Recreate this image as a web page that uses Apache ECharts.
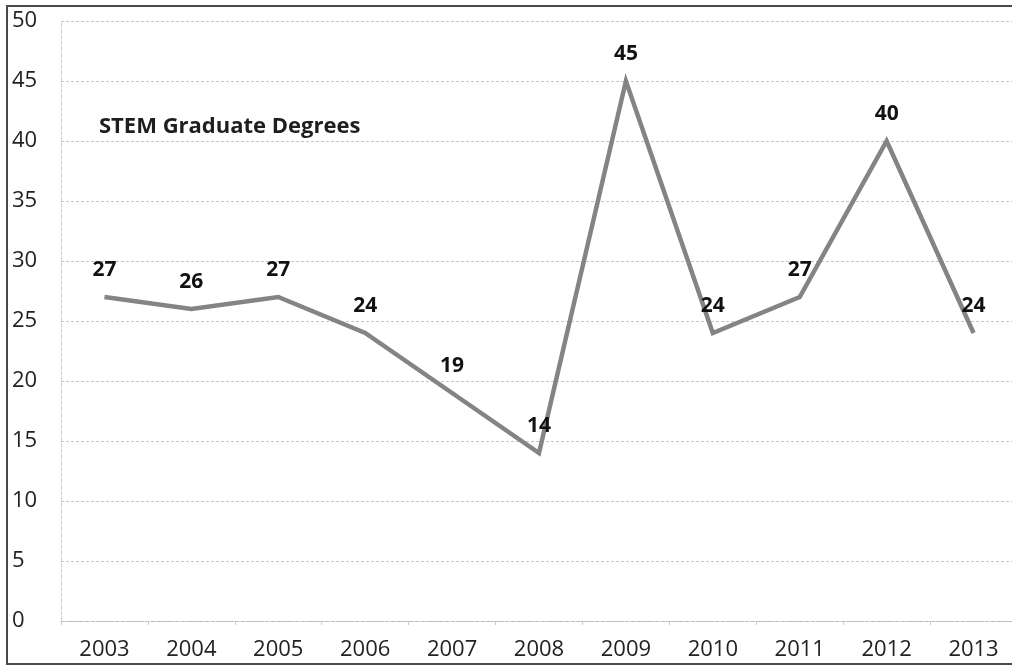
<!DOCTYPE html>
<html>
<head>
<meta charset="utf-8">
<script src="https://cdn.jsdelivr.net/npm/echarts@6/dist/echarts.min.js"></script>
<style>html,body{margin:0;padding:0;background:#fff}#c{width:1012px;height:666px}</style>
</head>
<body>
<div id="c"></div>
<script>
const years = ['2003','2004','2005','2006','2007','2008','2009','2010','2011','2012','2013'];
const degrees = [27, 26, 27, 24, 19, 14, 45, 24, 27, 40, 24];
const chartTitle = 'STEM Graduate Degrees';
const yMin = 0, yMax = 50, yStep = 5;

const chart = echarts.init(document.getElementById('c'), null, {renderer: 'canvas'});
const font = '"Open Sans", "Noto Sans", sans-serif';
chart.setOption({
  backgroundColor: '#fff',
  animation: false,
  title: {
    text: chartTitle, left: 94, top: 111,
    textStyle: {fontFamily: font, fontSize: 22, fontWeight: 'bold', color: '#1e1e1e'}
  },
  grid: {left: 61, top: 21, bottom: 45, right: -5, outerBoundsMode: 'none', containLabel: false},
  xAxis: {
    type: 'category', data: years, boundaryGap: true,
    axisLine: {show: true, lineStyle: {color: '#bdbdbd', type: 'dashed', width: 1}},
    axisTick: {show: true, length: 4, lineStyle: {color: '#c8c8c8'}},
    axisLabel: {fontFamily: font, fontSize: 22, color: '#222', margin: 18},
    splitLine: {show: false}
  },
  yAxis: {
    type: 'value', min: yMin, max: yMax, interval: yStep,
    axisLine: {show: true, lineStyle: {color: '#cfcfcf', type: 'dashed', width: 1}},
    axisTick: {show: false},
    axisLabel: {fontFamily: font, fontSize: 22, color: '#222', align: 'left', margin: 49},
    splitLine: {show: true, lineStyle: {color: '#c4c4c4', type: [3, 2], width: 1}}
  },
  series: [{
    type: 'line', data: degrees, symbol: 'circle', symbolSize: 1, showSymbol: true,
    itemStyle: {color: 'rgba(0,0,0,0)', borderWidth: 0},
    lineStyle: {color: '#848484', width: 4.5, join: 'miter'},
    labelLayout: {hideOverlap: false},
    label: {show: true, position: 'top', distance: 16, fontFamily: font, fontSize: 21, fontWeight: 'bold', color: '#111'}
  }],
  graphic: [{
    type: 'rect', shape: {x: 7, y: 6, width: 1020, height: 658},
    style: {fill: 'none', stroke: '#4a4a4a', lineWidth: 2}, z: 100, silent: true
  }]
});
</script>
</body>
</html>
